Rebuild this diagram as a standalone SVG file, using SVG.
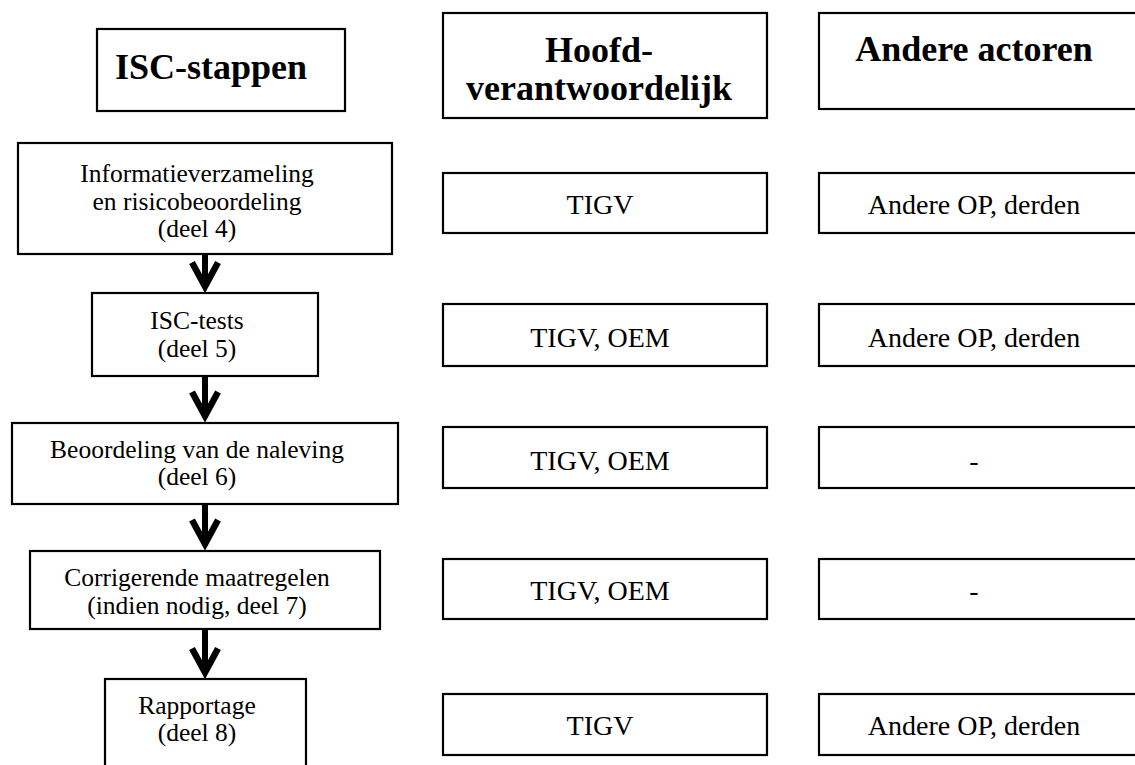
<svg xmlns="http://www.w3.org/2000/svg" width="1135" height="765" viewBox="0 0 1135 765">
<style>
  .box { fill: #ffffff; stroke: #000000; stroke-width: 2.2; }
  .hdr { font-family: "Liberation Serif", "Times New Roman", serif; font-weight: bold; font-size: 36px; fill: #000; text-anchor: middle; }
  .st { font-family: "Liberation Serif", "Times New Roman", serif; font-size: 25.5px; fill: #000; text-anchor: middle; }
  .rt { font-family: "Liberation Serif", "Times New Roman", serif; font-size: 28px; fill: #000; text-anchor: middle; }
  .conn { stroke: #000; stroke-width: 6; fill: none; }
</style>
<defs>
  <marker id="chev" markerUnits="userSpaceOnUse" viewBox="-30 -18 40 36" markerWidth="40" markerHeight="36" refX="0" refY="0" orient="auto">
    <path d="M-24,-13 L0,0 L-24,13" fill="none" stroke="#000" stroke-width="6.5" stroke-linejoin="miter" stroke-miterlimit="10"/>
  </marker>
</defs>
<rect width="1135" height="765" fill="#ffffff"/>

<g id="hdr-isc">
  <rect class="box" x="97" y="29" width="248" height="82"/>
  <text class="hdr" x="211" y="79">ISC-stappen</text>
</g>
<g id="hdr-hoofd">
  <rect class="box" x="443" y="13" width="324" height="105"/>
  <text class="hdr" x="599" y="62">Hoofd-</text>
  <text class="hdr" x="599" y="100">verantwoordelijk</text>
</g>
<g id="hdr-andere">
  <rect class="box" x="819" y="13" width="330" height="96"/>
  <text class="hdr" x="974" y="61">Andere actoren</text>
</g>

<g id="step4">
  <rect class="box" x="18" y="143" width="374" height="111"/>
  <text class="st" x="197" y="182">Informatieverzameling</text>
  <text class="st" x="197" y="209.5">en risicobeoordeling</text>
  <text class="st" x="197" y="237">(deel 4)</text>
</g>
<g id="step5">
  <rect class="box" x="92" y="293" width="226" height="83"/>
  <text class="st" x="197" y="329">ISC-tests</text>
  <text class="st" x="197" y="356.5">(deel 5)</text>
</g>
<g id="step6">
  <rect class="box" x="12" y="423" width="386" height="81"/>
  <text class="st" x="197" y="457.5">Beoordeling van de naleving</text>
  <text class="st" x="197" y="485">(deel 6)</text>
</g>
<g id="step7">
  <rect class="box" x="30" y="551" width="350" height="78"/>
  <text class="st" x="197" y="586">Corrigerende maatregelen</text>
  <text class="st" x="197" y="613.5">(indien nodig, deel 7)</text>
</g>
<g id="step8">
  <rect class="box" x="105" y="679" width="201" height="95"/>
  <text class="st" x="197" y="713.5">Rapportage</text>
  <text class="st" x="197" y="741">(deel 8)</text>
</g>

<g id="resp4">
  <rect class="box" x="443" y="173" width="324" height="60"/>
  <text class="rt" x="600" y="214">TIGV</text>
</g>
<g id="resp5">
  <rect class="box" x="443" y="304" width="324" height="62"/>
  <text class="rt" x="600" y="346.5">TIGV, OEM</text>
</g>
<g id="resp6">
  <rect class="box" x="443" y="427" width="324" height="61"/>
  <text class="rt" x="600" y="469.5">TIGV, OEM</text>
</g>
<g id="resp7">
  <rect class="box" x="443" y="559" width="324" height="60"/>
  <text class="rt" x="600" y="600">TIGV, OEM</text>
</g>
<g id="resp8">
  <rect class="box" x="443" y="694" width="324" height="61"/>
  <text class="rt" x="600" y="735">TIGV</text>
</g>

<g id="other4">
  <rect class="box" x="819" y="173" width="330" height="60"/>
  <text class="rt" x="974" y="214">Andere OP, derden</text>
</g>
<g id="other5">
  <rect class="box" x="819" y="304" width="330" height="62"/>
  <text class="rt" x="974" y="346.5">Andere OP, derden</text>
</g>
<g id="other6">
  <rect class="box" x="819" y="427" width="330" height="61"/>
  <text class="rt" x="974" y="469.5">-</text>
</g>
<g id="other7">
  <rect class="box" x="819" y="559" width="330" height="60"/>
  <text class="rt" x="974" y="600">-</text>
</g>
<g id="other8">
  <rect class="box" x="819" y="694" width="330" height="61"/>
  <text class="rt" x="974" y="735">Andere OP, derden</text>
</g>

<g id="connectors">
  <path class="conn" d="M205,255 L205,286.5" marker-end="url(#chev)"/>
  <path class="conn" d="M205,377 L205,416" marker-end="url(#chev)"/>
  <path class="conn" d="M205,505 L205,544" marker-end="url(#chev)"/>
  <path class="conn" d="M205,630 L205,672.5" marker-end="url(#chev)"/>
</g>
</svg>
